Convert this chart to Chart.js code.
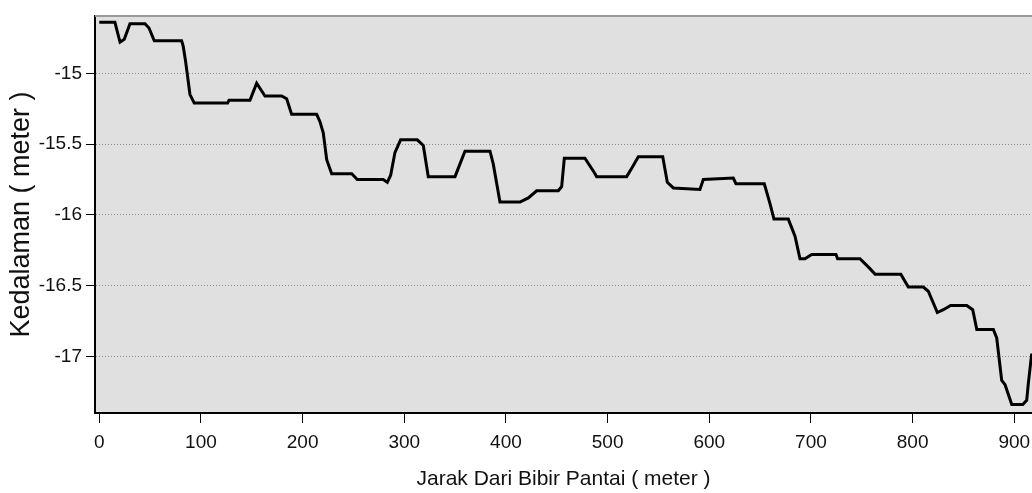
<!DOCTYPE html>
<html>
<head>
<meta charset="utf-8">
<title>Profil Kedalaman</title>
<script src="https://cdn.jsdelivr.net/npm/chart.js@4/dist/chart.umd.min.js"></script>
<style>
  html, body { margin: 0; padding: 0; background: #ffffff; overflow: hidden; }
  #wrap { width: 1032px; height: 493px; }
  canvas { display: block; }
</style>
</head>
<body>
<div id="wrap"><canvas id="profil" width="1032" height="493"></canvas></div>
<script>
// Jarak dari bibir pantai (meter)
const distance = [
  0, 15.4, 20.4, 24.6, 30.2, 45, 48.9, 54.1, 81, 82.6, 85, 89.2, 93.4,
  126.3, 127.6, 148.2, 154.8, 163, 179.4, 184.3, 189.2, 213.8, 217, 220.3,
  223.7, 228.6, 248.3, 253.8, 279.3, 283.3, 286.6, 290.8, 296.4, 312.8,
  318.7, 323.6, 349.9, 354.8, 359.7, 384.3, 387.5, 394.1, 413.8, 422,
  430.2, 451.5, 454.8, 457.4, 477.7, 487.6, 489.2, 518.7, 523.7, 530.2,
  554.2, 558.7, 564.6, 590.8, 594.1, 623.6, 626.2, 654.1, 659.7, 663.6,
  677.7, 684.3, 689.2, 694.1, 700.7, 724.6, 726.2, 748.2, 758, 763.1,
  788.4, 795.7, 810.5, 815.4, 824.3, 830.2, 837.4, 853.2, 859.1, 863.1,
  879.4, 882.7, 887.6, 890.9, 897.5, 908.3, 912.2, 913.8, 917.1
];

// Kedalaman (meter)
const depth = [
  -14.64, -14.64, -14.78, -14.76, -14.65, -14.65, -14.68, -14.77, -14.77, -14.81, -14.92, -15.15, -15.21,
  -15.21, -15.19, -15.19, -15.07, -15.16, -15.16, -15.18, -15.29, -15.29, -15.34, -15.42,
  -15.61, -15.71, -15.71, -15.75, -15.75, -15.77, -15.72, -15.56, -15.47, -15.47,
  -15.51, -15.73, -15.73, -15.64, -15.55, -15.55, -15.64, -15.91, -15.91, -15.88,
  -15.83, -15.83, -15.80, -15.60, -15.60, -15.71, -15.73, -15.73, -15.67, -15.59,
  -15.59, -15.77, -15.81, -15.82, -15.75, -15.74, -15.78, -15.78, -15.92, -16.03,
  -16.03, -16.15, -16.31, -16.31, -16.28, -16.28, -16.31, -16.31, -16.38, -16.42,
  -16.42, -16.51, -16.51, -16.54, -16.69, -16.67, -16.64, -16.64, -16.67, -16.81,
  -16.81, -16.87, -17.17, -17.20, -17.34, -17.34, -17.31, -17.19, -16.98
];

// Tick labels on both axes
const xTicks = [0, 100, 200, 300, 400, 500, 600, 700, 800, 900];
const yTicks = [-15, -15.5, -16, -16.5, -17];

const FONT = '"Liberation Sans", Arial, sans-serif';

const points = distance.map((d, i) => ({ x: d, y: depth[i] }));

// Grey plot background and thin grey frame along the top
const plotFrame = {
  id: 'plotFrame',
  beforeDraw(chart) {
    const { ctx, chartArea: a } = chart;
    ctx.save();
    ctx.fillStyle = '#e0e0e0';
    ctx.fillRect(a.left, a.top, a.right - a.left, a.bottom - a.top);
    ctx.restore();
  },
  afterDraw(chart) {
    const { ctx, chartArea: a } = chart;
    ctx.save();
    ctx.strokeStyle = '#9a9a9a';
    ctx.lineWidth = 2;
    ctx.beginPath();
    ctx.moveTo(a.left, a.top);
    ctx.lineTo(a.right, a.top);
    ctx.stroke();
    ctx.restore();
  }
};

new Chart(document.getElementById('profil'), {
  type: 'line',
  data: {
    datasets: [{
      data: points,
      borderColor: '#000000',
      borderWidth: 3,
      pointRadius: 0,
      pointHoverRadius: 0,
      tension: 0,
      fill: false
    }]
  },
  options: {
    responsive: false,
    animation: false,
    devicePixelRatio: 1,
    layout: { padding: { top: 16, right: 0, bottom: 0, left: 0 } },
    plugins: {
      legend: { display: false },
      tooltip: { enabled: false }
    },
    scales: {
      x: {
        type: 'linear',
        min: -4.2,
        max: 917.4,
        afterBuildTicks(scale) { scale.ticks = xTicks.map(v => ({ value: v })); },
        afterFit(scale) {
          scale.height = 80;
          scale.paddingLeft = 0;
          scale.paddingRight = 0;
        },
        grid: {
          drawOnChartArea: false,
          drawTicks: true,
          tickLength: 10,
          tickColor: '#000000',
          tickWidth: 1
        },
        border: { display: true, color: '#000000', width: 2 },
        ticks: {
          color: '#111111',
          padding: 8,
          maxRotation: 0,
          autoSkip: false,
          font: { family: FONT, size: 19 },
          callback: v => String(v)
        },
        title: {
          display: true,
          text: 'Jarak Dari Bibir Pantai ( meter )',
          color: '#111111',
          font: { family: FONT, size: 21 },
          padding: { top: 0, bottom: 1 }
        }
      },
      y: {
        type: 'linear',
        min: -17.4,
        max: -14.595,
        afterBuildTicks(scale) { scale.ticks = yTicks.map(v => ({ value: v })); },
        afterFit(scale) {
          scale.width = 95;
          scale.paddingTop = 0;
          scale.paddingBottom = 0;
        },
        grid: {
          color: '#8c8c8c',
          lineWidth: 1,
          drawTicks: true,
          tickLength: 9,
          tickColor: '#000000',
          tickWidth: 1,
          tickBorderDash: []
        },
        border: { display: true, color: '#000000', width: 2, dash: [1, 2] },
        ticks: {
          color: '#111111',
          padding: 4,
          autoSkip: false,
          font: { family: FONT, size: 19 },
          callback: v => String(v)
        },
        title: {
          display: true,
          text: 'Kedalaman ( meter )',
          color: '#111111',
          font: { family: FONT, size: 27 },
          padding: { top: 5, bottom: 0 }
        }
      }
    }
  },
  plugins: [plotFrame]
});
</script>
</body>
</html>
